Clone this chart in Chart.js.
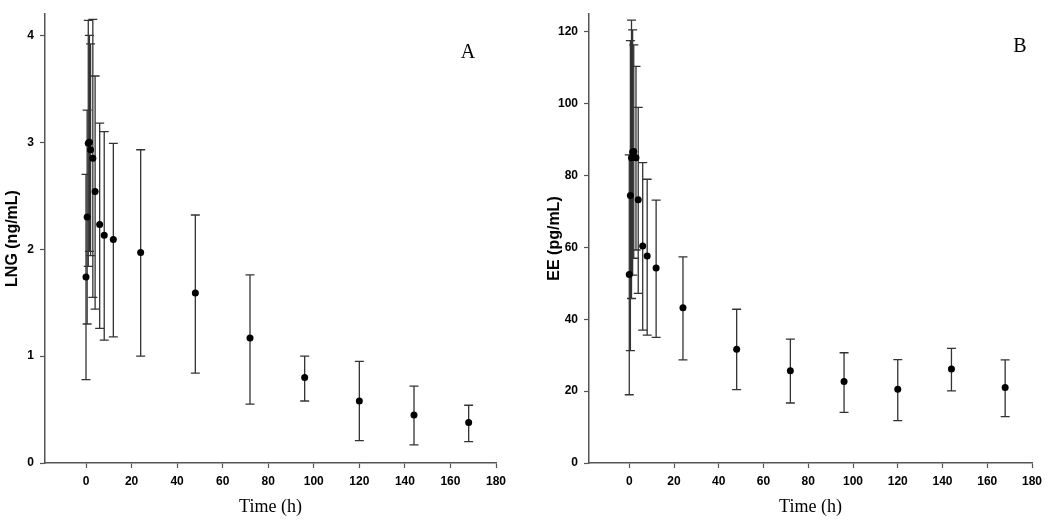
<!DOCTYPE html>
<html>
<head>
<meta charset="utf-8">
<script src="https://cdn.jsdelivr.net/npm/chart.js@4/dist/chart.umd.min.js"></script>
<style>
    html, body { margin: 0; padding: 0; background: #fff; }
    .panel { position: absolute; top: 0; width: 525px; height: 524px; }
</style>
</head>
<body>
<div class="panel" style="left:0"><canvas id="lngChart"></canvas></div>
<div class="panel" style="left:525px"><canvas id="eeChart"></canvas></div>
<script>
// sampling times (h)
const timesH = [0, 0.5, 1, 1.5, 2, 3, 4, 6, 8, 12, 24, 48, 72, 96, 120, 144, 168];

// panel A - LNG (ng/mL), mean with lower / upper whisker ends
const lngMean = [1.74, 2.30, 2.99, 3.00, 2.93, 2.85, 2.54, 2.23, 2.13, 2.09, 1.97, 1.59, 1.17, 0.80, 0.58, 0.45, 0.38];
const lngLow  = [0.78, 1.30, 1.84, 1.98, 1.94, 1.55, 1.44, 1.26, 1.15, 1.18, 1.00, 0.84, 0.55, 0.58, 0.21, 0.17, 0.20];
const lngHigh = [2.70, 3.30, 4.14, 4.00, 3.92, 4.15, 3.62, 3.18, 3.10, 2.99, 2.93, 2.32, 1.76, 1.00, 0.95, 0.72, 0.54];

// panel B - EE (pg/mL)
const eeMean = [52.5, 74.5, 85.0, 86.6, 86.7, 85.0, 73.3, 60.4, 57.6, 54.3, 43.2, 31.7, 25.7, 22.7, 20.5, 26.2, 21.0];
const eeLow  = [19.0, 31.3, 45.8, 52.3, 57.0, 59.3, 47.2, 37.0, 35.6, 35.0, 28.7, 20.4, 16.7, 14.1, 11.8, 20.1, 12.9];
const eeHigh = [85.8, 117.6, 123.3, 120.6, 116.4, 110.4, 99.0, 83.6, 79.0, 73.2, 57.4, 42.8, 34.5, 30.7, 28.8, 31.9, 28.7];

const xTicks = [0, 20, 40, 60, 80, 100, 120, 140, 160, 180];

const SANS = 'Arial, "Liberation Sans", sans-serif';
const SERIF = '"Times New Roman", "Liberation Serif", serif';
const AXIS_GREY = '#555';

// vertical whiskers with caps, drawn under the points
const errorBars = {
    id: 'errorBars',
    beforeDatasetsDraw(chart, args, opts) {
        const { ctx, scales: { x, y } } = chart;
        ctx.save();
        ctx.strokeStyle = opts.color;
        ctx.lineWidth = opts.width;
        opts.low.forEach((lo, i) => {
            const px = x.getPixelForValue(opts.times[i]);
            const pLo = y.getPixelForValue(lo);
            const pHi = y.getPixelForValue(opts.high[i]);
            ctx.beginPath();
            ctx.moveTo(px, pLo); ctx.lineTo(px, pHi);
            ctx.moveTo(px - opts.cap, pLo); ctx.lineTo(px + opts.cap, pLo);
            ctx.moveTo(px - opts.cap, pHi); ctx.lineTo(px + opts.cap, pHi);
            ctx.stroke();
        });
        ctx.restore();
    }
};

// "A" / "B" letter in the upper right of the plot
const panelLetter = {
    id: 'panelLetter',
    afterDraw(chart, args, opts) {
        const { ctx, chartArea } = chart;
        ctx.save();
        ctx.font = '20px ' + SERIF;
        ctx.fillStyle = '#000';
        ctx.textAlign = 'center';
        ctx.textBaseline = 'middle';
        ctx.fillText(opts.text, chartArea.right - opts.right, chartArea.top + opts.down);
        ctx.restore();
    }
};

function makePanel(canvasId, cfg) {
    const ctx = document.getElementById(canvasId).getContext('2d');
    return new Chart(ctx, {
        type: 'scatter',
        data: {
            datasets: [{
                data: timesH.map((t, i) => ({ x: t, y: cfg.mean[i] })),
                pointRadius: 3.5,
                pointBackgroundColor: '#000',
                pointBorderWidth: 0,
                showLine: false
            }]
        },
        options: {
            responsive: true,
            maintainAspectRatio: false,
            animation: false,
            layout: { padding: { left: 0, top: 14, right: cfg.padRight, bottom: 0 } },
            scales: {
                x: {
                    type: 'linear',
                    min: -18,
                    max: 180,
                    afterFit: (s) => { s.height = 61; },
                    afterBuildTicks: (s) => { s.ticks = xTicks.map(v => ({ value: v })); },
                    border: { color: AXIS_GREY, width: 1.5 },
                    grid: { drawOnChartArea: false, tickLength: 5, color: AXIS_GREY, tickWidth: 1.2 },
                    ticks: { color: '#000', padding: 6, font: { family: SANS, size: 12, weight: 'bold' } },
                    title: { display: true, text: 'Time (h)', color: '#000', padding: { top: 0, bottom: 6 },
                             font: { family: SERIF, size: 18 } }
                },
                y: {
                    min: 0,
                    max: cfg.yMax,
                    afterFit: (s) => { s.width = cfg.axisWidth; },
                    border: { color: AXIS_GREY, width: 1.5 },
                    grid: { drawOnChartArea: false, tickLength: 5, color: AXIS_GREY, tickWidth: 1.2 },
                    ticks: { stepSize: cfg.yStep, includeBounds: false, color: '#000', padding: 6,
                             font: { family: SANS, size: 12, weight: 'bold' } },
                    title: { display: true, text: cfg.yTitle, color: '#000', padding: { top: cfg.titlePad, bottom: 0 },
                             font: { family: SANS, size: 16, weight: 'bold' } }
                }
            },
            plugins: {
                legend: { display: false },
                tooltip: { enabled: false },
                errorBars: { times: timesH, low: cfg.low, high: cfg.high, color: '#333', width: 1.3, cap: 4.5 },
                panelLetter: { text: cfg.letter, right: cfg.letterRight, down: cfg.letterDown }
            }
        },
        plugins: [errorBars, panelLetter]
    });
}

makePanel('lngChart', {
    mean: lngMean, low: lngLow, high: lngHigh,
    yMax: 4.2, yStep: 1, yTitle: 'LNG (ng/mL)',
    axisWidth: 45, titlePad: 3, padRight: 29,
    letter: 'A', letterRight: 28, letterDown: 39
});

makePanel('eeChart', {
    mean: eeMean, low: eeLow, high: eeHigh,
    yMax: 125, yStep: 20, yTitle: 'EE (pg/mL)',
    axisWidth: 64, titlePad: 20, padRight: 18,
    letter: 'B', letterRight: 12, letterDown: 33
});
</script>
</body>
</html>
